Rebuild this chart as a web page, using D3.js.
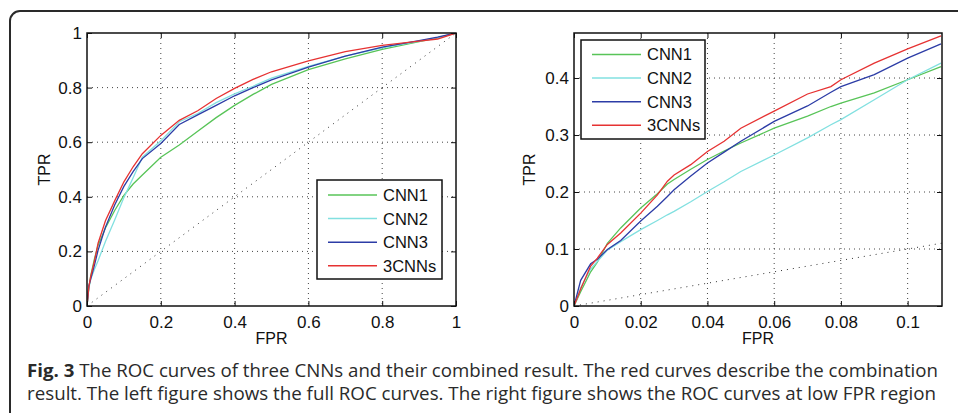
<!DOCTYPE html>
<html>
<head>
<meta charset="utf-8">
<script src="https://cdn.jsdelivr.net/npm/d3@7"></script>
<style>
  body { margin: 0; background: #fff; }
  svg { display: block; }
</style>
</head>
<body>
<div id="chart"></div>
<script>
// series names, same order in both panels
const seriesNames = ['CNN1', 'CNN2', 'CNN3', '3CNNs'];
const seriesColors = ['#58c458', '#82e0e0', '#2c3ca6', '#e63232'];

// left panel: full ROC
const fullFpr   = [0, 0.005, 0.01, 0.02, 0.03, 0.05, 0.075, 0.1, 0.125, 0.15, 0.2, 0.25, 0.3, 0.35, 0.4, 0.45, 0.5, 0.6, 0.7, 0.8, 0.9, 0.95, 1];
const fullCnn1  = [0, 0.065, 0.11, 0.172, 0.222, 0.286, 0.35, 0.405, 0.447, 0.48, 0.545, 0.59, 0.64, 0.69, 0.735, 0.775, 0.812, 0.866, 0.905, 0.94, 0.968, 0.982, 1];
const fullCnn2  = [0, 0.065, 0.098, 0.134, 0.166, 0.236, 0.315, 0.397, 0.47, 0.545, 0.605, 0.675, 0.705, 0.745, 0.777, 0.805, 0.835, 0.878, 0.915, 0.946, 0.97, 0.983, 1];
const fullCnn3  = [0, 0.074, 0.099, 0.149, 0.204, 0.289, 0.37, 0.438, 0.492, 0.54, 0.595, 0.665, 0.7, 0.735, 0.77, 0.8, 0.828, 0.875, 0.915, 0.948, 0.972, 0.985, 1];
const full3cnns = [0, 0.07, 0.108, 0.163, 0.23, 0.312, 0.385, 0.455, 0.51, 0.558, 0.625, 0.68, 0.715, 0.76, 0.797, 0.83, 0.858, 0.898, 0.932, 0.955, 0.97, 0.978, 1];

// right panel: low FPR region
const lowFpr   = [0, 0.002, 0.005, 0.007, 0.01, 0.014, 0.02, 0.025, 0.028, 0.03, 0.035, 0.04, 0.045, 0.05, 0.06, 0.07, 0.077, 0.08, 0.09, 0.1, 0.11];
const lowCnn1  = [0, 0.025, 0.06, 0.077, 0.11, 0.137, 0.172, 0.197, 0.214, 0.222, 0.24, 0.257, 0.272, 0.286, 0.312, 0.333, 0.35, 0.356, 0.374, 0.397, 0.42];
const lowCnn2  = [0, 0.032, 0.065, 0.078, 0.098, 0.113, 0.134, 0.15, 0.16, 0.166, 0.183, 0.201, 0.218, 0.236, 0.265, 0.295, 0.318, 0.327, 0.362, 0.397, 0.426];
const lowCnn3  = [0, 0.045, 0.074, 0.082, 0.099, 0.115, 0.149, 0.175, 0.192, 0.204, 0.228, 0.251, 0.27, 0.289, 0.324, 0.351, 0.375, 0.385, 0.406, 0.435, 0.46];
const low3cnns = [0, 0.03, 0.07, 0.084, 0.108, 0.128, 0.163, 0.195, 0.219, 0.23, 0.248, 0.271, 0.289, 0.312, 0.342, 0.372, 0.385, 0.397, 0.426, 0.451, 0.474];

// ticks
const fullXTicks = [0, 0.2, 0.4, 0.6, 0.8, 1];
const fullYTicks = [0, 0.2, 0.4, 0.6, 0.8, 1];
const lowXTicks  = [0, 0.02, 0.04, 0.06, 0.08, 0.1];
const lowYTicks  = [0, 0.1, 0.2, 0.3, 0.4];

const captionBold = 'Fig. 3';
const captionLine1 = ' The ROC curves of three CNNs and their combined result. The red curves describe the combination';
const captionLine2 = 'result. The left figure shows the full ROC curves. The right figure shows the ROC curves at low FPR region';

const W = 958, H = 413;
const FONT = "'Liberation Sans', Arial, sans-serif";
const svg = d3.select('#chart').append('svg')
  .attr('width', W).attr('height', H);

svg.append('rect').attr('width', W).attr('height', H).attr('fill', '#fff');

// figure frame (runs off right/bottom edge)
svg.append('rect')
  .attr('x', 10).attr('y', 11)
  .attr('width', 1000).attr('height', 500)
  .attr('rx', 10)
  .attr('fill', 'none')
  .attr('stroke', '#2a2a2a')
  .attr('stroke-width', 2);

function drawPanel(p) {
  const x = d3.scaleLinear().domain(p.xDomain).range([p.left, p.right]);
  const y = d3.scaleLinear().domain(p.yDomain).range([p.bottom, p.top]);
  const g = svg.append('g');

  const clipId = 'clip-' + p.id;
  svg.append('clipPath').attr('id', clipId)
    .append('rect')
    .attr('x', p.left).attr('y', p.top)
    .attr('width', p.right - p.left).attr('height', p.bottom - p.top);

  // dotted grid
  g.append('g').selectAll('line')
    .data(p.xTicks.filter(d => d > p.xDomain[0] && d < p.xDomain[1]))
    .join('line')
    .attr('x1', d => x(d)).attr('x2', d => x(d))
    .attr('y1', p.top).attr('y2', p.bottom)
    .attr('stroke', '#444').attr('stroke-width', 1)
    .attr('stroke-dasharray', '1,4');
  g.append('g').selectAll('line')
    .data(p.yTicks.filter(d => d > p.yDomain[0] && d < p.yDomain[1]))
    .join('line')
    .attr('y1', d => y(d)).attr('y2', d => y(d))
    .attr('x1', p.left).attr('x2', p.right)
    .attr('stroke', '#444').attr('stroke-width', 1)
    .attr('stroke-dasharray', '1,4');

  // chance diagonal
  const lim = Math.min(p.xDomain[1], p.yDomain[1]);
  g.append('line')
    .attr('clip-path', `url(#${clipId})`)
    .attr('x1', x(0)).attr('y1', y(0))
    .attr('x2', x(lim)).attr('y2', y(lim))
    .attr('stroke', '#333').attr('stroke-width', 1)
    .attr('stroke-dasharray', '1,5');

  // curves
  const line = d3.line().x(d => x(d[0])).y(d => y(d[1]));
  p.series.forEach((vals, i) => {
    g.append('path')
      .datum(p.fpr.map((f, j) => [f, vals[j]]))
      .attr('clip-path', `url(#${clipId})`)
      .attr('fill', 'none')
      .attr('stroke', seriesColors[i])
      .attr('stroke-width', 1.3)
      .attr('d', line);
  });

  // axes, MATLAB style ticks pointing inward on all four sides
  const fmt = d => String(d);
  const ax = [
    g.append('g').attr('transform', `translate(0,${p.bottom})`)
      .call(d3.axisBottom(x).tickValues(p.xTicks).tickFormat(fmt).tickSize(-5).tickSizeOuter(0).tickPadding(10)),
    g.append('g').attr('transform', `translate(${p.left},0)`)
      .call(d3.axisLeft(y).tickValues(p.yTicks).tickFormat(fmt).tickSize(-5).tickSizeOuter(0).tickPadding(5)),
    g.append('g').attr('transform', `translate(0,${p.top})`)
      .call(d3.axisTop(x).tickValues(p.xTicks).tickFormat('').tickSize(-5).tickSizeOuter(0)),
    g.append('g').attr('transform', `translate(${p.right},0)`)
      .call(d3.axisRight(y).tickValues(p.yTicks).tickFormat('').tickSize(-5).tickSizeOuter(0))
  ];
  ax.forEach(a => {
    a.attr('font-size', null).attr('font-family', null);
    a.select('.domain').remove();
    a.selectAll('.tick line').attr('stroke', '#111').attr('stroke-width', 1);
    a.selectAll('.tick text')
      .style('font-family', FONT)
      .style('font-size', '17px')
      .attr('fill', '#111');
  });

  // box
  g.append('rect')
    .attr('x', p.left).attr('y', p.top)
    .attr('width', p.right - p.left).attr('height', p.bottom - p.top)
    .attr('fill', 'none').attr('stroke', '#111').attr('stroke-width', 1.5);

  // axis titles
  g.append('text')
    .attr('x', (p.left + p.right) / 2).attr('y', 344)
    .attr('text-anchor', 'middle')
    .style('font-family', FONT)
    .style('font-size', '16px').attr('fill', '#111')
    .text('FPR');
  g.append('text')
    .attr('transform', `translate(${p.yTitleX},${(p.top + p.bottom) / 2}) rotate(-90)`)
    .attr('text-anchor', 'middle')
    .style('font-family', FONT)
    .style('font-size', '16px').attr('fill', '#111')
    .text('TPR');

  // legend
  const L = p.legend;
  const lg = g.append('g');
  lg.append('rect')
    .attr('x', L.x).attr('y', L.y).attr('width', L.w).attr('height', L.h)
    .attr('fill', '#fff').attr('stroke', '#111').attr('stroke-width', 1.5);
  seriesNames.forEach((name, i) => {
    const ry = L.y + L.first + i * L.step;
    lg.append('line')
      .attr('x1', L.x + 11).attr('x2', L.x + 60)
      .attr('y1', ry).attr('y2', ry)
      .attr('stroke', seriesColors[i]).attr('stroke-width', 1.5);
    lg.append('text')
      .attr('x', L.x + 66).attr('y', ry).attr('dy', '0.36em')
      .style('font-family', FONT)
      .style('font-size', '16.5px').attr('fill', '#111')
      .text(name);
  });
}

drawPanel({
  id: 'full',
  left: 87, right: 456, top: 33, bottom: 306,
  xDomain: [0, 1], yDomain: [0, 1],
  xTicks: fullXTicks, yTicks: fullYTicks,
  fpr: fullFpr,
  series: [fullCnn1, fullCnn2, fullCnn3, full3cnns],
  yTitleX: 50,
  legend: { x: 317, y: 180, w: 125, h: 99, first: 15, step: 23.6 }
});

drawPanel({
  id: 'low',
  left: 574, right: 942, top: 33, bottom: 306,
  xDomain: [0, 0.1103], yDomain: [0, 0.479],
  xTicks: lowXTicks, yTicks: lowYTicks,
  fpr: lowFpr,
  series: [lowCnn1, lowCnn2, lowCnn3, low3cnns],
  yTitleX: 535,
  legend: { x: 581, y: 40, w: 124, h: 99, first: 14.5, step: 23.6 }
});

// caption
const cap = svg.append('g')
  .style('font-family', "'Open Sans', 'Noto Sans', sans-serif")
  .style('font-size', '18.5px')
  .attr('fill', '#2a2a2a');
const t1 = cap.append('text')
  .attr('x', 27).attr('y', 377)
  .attr('textLength', 911).attr('lengthAdjust', 'spacingAndGlyphs');
t1.append('tspan').style('font-weight', 'bold').text(captionBold);
t1.append('tspan').text(captionLine1);
cap.append('text')
  .attr('x', 27).attr('y', 400)
  .attr('textLength', 909).attr('lengthAdjust', 'spacingAndGlyphs')
  .text(captionLine2);
</script>
</body>
</html>
